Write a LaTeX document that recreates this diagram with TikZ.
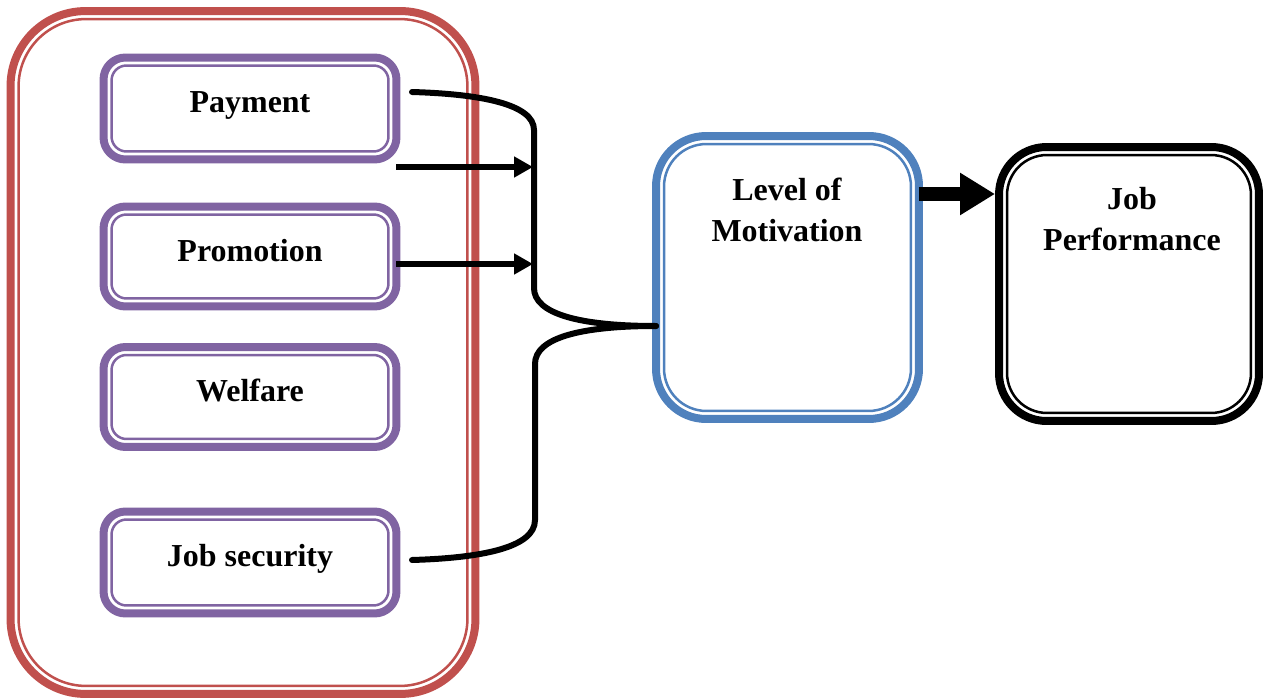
\documentclass[tikz,border=0pt]{standalone}
\usepackage{fontspec}
\setmainfont{Liberation Serif}
\usetikzlibrary{arrows.meta,calc}
\definecolor{cred}{HTML}{C0504D}
\definecolor{cpurple}{HTML}{8064A2}
\definecolor{cblue}{HTML}{4F81BD}
\newcommand{\innerframe}[4]{% node, offset(px), radius(cm), colour
  \draw[draw=#4, line width=0.05cm, rounded corners=#3]
    ($(#1.north west)+(#2,#2)$) rectangle ($(#1.south east)+(-#2,-#2)$);}
\tikzset{
  frame/.style={rectangle, line width=0.16cm, outer sep=0pt, inner sep=0pt},
  factor/.style={frame, draw=cpurple, rounded corners=0.44cm,
    minimum width=5.86cm, minimum height=2.04cm},
  lbl/.style={font=\fontsize{18.2}{23.5}\selectfont\bfseries, align=center, inner sep=0pt},
  conn/.style={line width=0.12cm, line cap=round},
  sarrow/.style={line width=0.11cm, -{Triangle[length=0.38cm,width=0.4cm]}},
  barrow/.style={line width=0.28cm, -{Triangle[length=0.7cm,width=0.8cm]}}
}
\begin{document}
\begin{tikzpicture}[x=0.02cm,y=-0.02cm]
\useasboundingbox (0,0) rectangle (1267,699);
% outer red frame
\node[frame, draw=cred, rounded corners=1.5cm,
  minimum width=9.3cm, minimum height=13.66cm] (grp) at (243,352.5) {};
\innerframe{grp}{8}{1.35cm}{cred}
% factors
\node[factor] (pay) at (250,108.5) {};
\node[factor, minimum height=2.0cm] (pro) at (250,256.5) {};
\node[factor, minimum height=2.0cm] (wel) at (250,397) {};
\node[factor] (sec) at (250,562.5) {};
\innerframe{pay}{8}{0.3cm}{cpurple}
\innerframe{pro}{8}{0.3cm}{cpurple}
\innerframe{wel}{8}{0.3cm}{cpurple}
\innerframe{sec}{8}{0.3cm}{cpurple}
\node[lbl] (tpay) at (250,105) {Payment};
\node[lbl] (tpro) at (250,251) {Promotion};
\node[lbl] (twel) at (250,390) {Welfare};
\node[lbl] (tsec) at (250,559) {Job security};
% motivation
\node[frame, draw=cblue, rounded corners=1.0cm,
  minimum width=5.26cm, minimum height=5.66cm] (mot) at (787.5,277.5) {};
\innerframe{mot}{8}{0.85cm}{cblue}
\node[lbl] (tmot) at (787,210) {Level of\\Motivation};
% performance
\node[frame, draw=black, rounded corners=0.95cm,
  minimum width=5.2cm, minimum height=5.48cm] (perf) at (1129,284) {};
\innerframe{perf}{8}{0.8cm}{black}
\node[lbl] (tperf) at (1132,219) {Job\\Performance};
% connectors
\coordinate (s1) at (412,92);
\coordinate (s2) at (412,560);
\coordinate (j) at (mot.west |- 0,326);
\coordinate (a1s) at (pay.east |- 0,167);
\coordinate (a1e) at (533,167);
\coordinate (a2s) at (pro.east |- 0,264);
\coordinate (a2e) at (533,264);
\coordinate (bs) at (mot.east |- 0,194);
\coordinate (be) at (995,194);
\draw[conn] (s1) .. controls (480,94) and (534,104) .. (534,130) -- (534,288)
  .. controls (534,314) and (580,326) .. (j);
\draw[conn] (j) .. controls (580,326) and (535,338) .. (535,364) -- (535,520)
  .. controls (535,548) and (480,558) .. (s2);
\draw[sarrow] (a1s) -- (a1e);
\draw[sarrow] (a2s) -- (a2e);
\draw[barrow] (bs) -- (be);
\end{tikzpicture}
\end{document}
